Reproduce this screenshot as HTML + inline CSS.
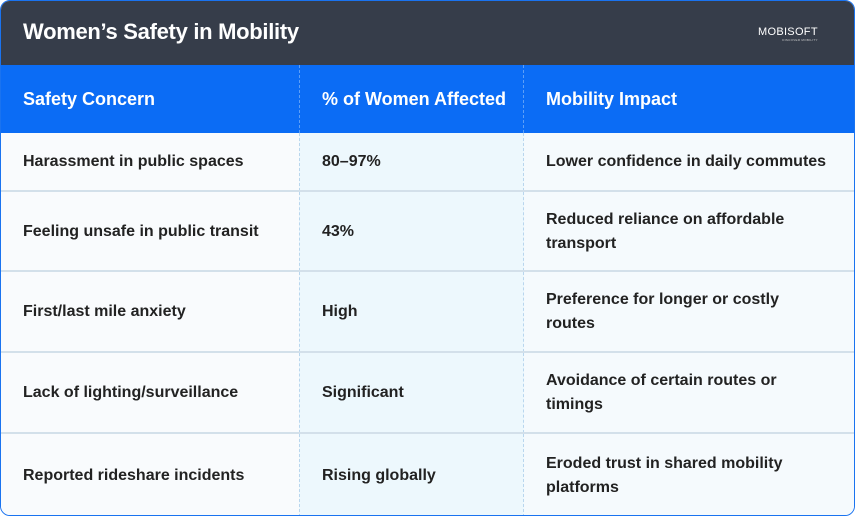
<!DOCTYPE html>
<html><head><meta charset="utf-8"><style>
*{box-sizing:border-box;margin:0;padding:0}
body{width:855px;height:516px;background:#fff;font-family:"Liberation Sans",sans-serif;overflow:hidden}
#card{position:absolute;left:0;top:0;width:855px;height:516px;border:1.5px solid #1a73f0;border-radius:10px;overflow:hidden;background:#f7fafd}
#top{position:absolute;left:0;top:0;width:100%;height:65px;background:#363d4a}
#title{position:absolute;left:22px;top:18px;color:#fff;font-size:22px;font-weight:bold;letter-spacing:-0.3px}
#logo{position:absolute;left:757px;top:25px;color:#fff;font-size:11px;letter-spacing:0.3px}
#logo small{display:block;font-size:3px;text-align:right;color:#ccc}
.row{position:absolute;left:0;width:100%}
.cell{position:absolute;top:0;height:100%;display:flex;align-items:center;padding-left:22px;font-size:16px;font-weight:bold;color:#222;line-height:24px}
.c1{left:0;width:298px;background:#f9fbfd}
.c2{left:298px;width:225px;background:#edf8fd;border-left:1px dashed #b9d6ee;border-right:1px dashed #b9d6ee}
.c3{left:523px;width:332px;background:#f5fafd}
.hdr .cell{background:#0b6cf5;color:#fff;font-size:18px;border-color:#5d9ff7}
.body{border-top:2px solid #d3e0ea}
</style></head><body>
<div id="card">
<div id="top">
<div id="title">Women’s Safety in Mobility</div>
<div id="logo">MOBISOFT<small>DISCOVER MOBILITY</small></div>
</div>
<div class="row hdr" style="top:64px;height:68px">
<div class="cell c1">Safety Concern</div>
<div class="cell c2">% of Women Affected</div>
<div class="cell c3">Mobility Impact</div>
</div>
<div class="row" style="top:132px;height:58px">
<div class="cell c1">Harassment in public spaces</div>
<div class="cell c2">80–97%</div>
<div class="cell c3">Lower confidence in daily commutes</div>
</div>
<div class="row body" style="top:189px;height:81px">
<div class="cell c1">Feeling unsafe in public transit</div>
<div class="cell c2">43%</div>
<div class="cell c3">Reduced reliance on affordable<br>transport</div>
</div>
<div class="row body" style="top:269px;height:82px">
<div class="cell c1">First/last mile anxiety</div>
<div class="cell c2">High</div>
<div class="cell c3">Preference for longer or costly<br>routes</div>
</div>
<div class="row body" style="top:350px;height:82px">
<div class="cell c1">Lack of lighting/surveillance</div>
<div class="cell c2">Significant</div>
<div class="cell c3">Avoidance of certain routes or<br>timings</div>
</div>
<div class="row body" style="top:431px;height:85px">
<div class="cell c1">Reported rideshare incidents</div>
<div class="cell c2">Rising globally</div>
<div class="cell c3">Eroded trust in shared mobility<br>platforms</div>
</div>
</div>
</body></html>
